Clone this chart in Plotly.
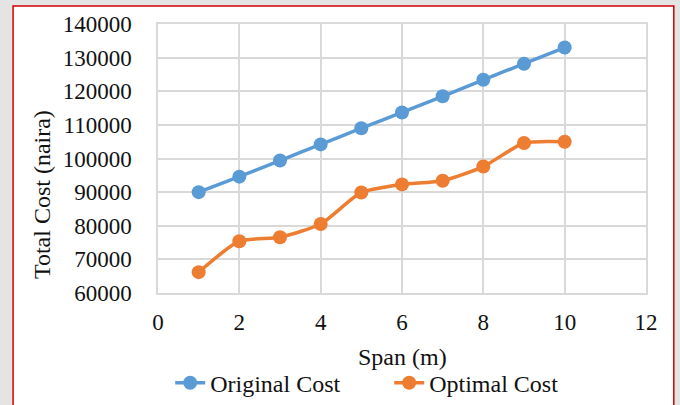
import plotly.graph_objects as go

span = [1, 2, 3, 4, 5, 6, 7, 8, 9, 10]
original_cost = [90000, 94600, 99400, 104200, 109000, 113700, 118500, 123400, 128200, 133000]
optimal_cost = [66200, 75400, 76600, 80500, 89900, 92300, 93400, 97600, 104600, 105000]

x_ticks = [0, 2, 4, 6, 8, 10, 12]
y_ticks = [60000, 70000, 80000, 90000, 100000, 110000, 120000, 130000, 140000]

FONT = "Liberation Serif"
BLUE = "#5b9bd5"
ORANGE = "#ed7d31"

fig = go.Figure()
fig.add_trace(go.Scatter(x=span, y=original_cost, name="Original Cost", mode="lines+markers",
                         line=dict(color=BLUE, width=3.5, shape="spline", smoothing=0.6),
                         marker=dict(color=BLUE, size=14)))
fig.add_trace(go.Scatter(x=span, y=optimal_cost, name="Optimal Cost", mode="lines+markers",
                         line=dict(color=ORANGE, width=3.5, shape="spline", smoothing=0.6),
                         marker=dict(color=ORANGE, size=14)))

fig.update_layout(
    width=680, height=405,
    margin=dict(l=158, r=34, t=24, b=112, autoexpand=False),
    paper_bgcolor="#e4e4e4", plot_bgcolor="white",
    font=dict(family=FONT, size=23, color="#111111"),
    showlegend=True,
    legend=dict(orientation="h", x=0.025, xanchor="left", y=-0.335, yanchor="middle",
                font=dict(size=24), entrywidth=174, entrywidthmode="pixels",
                bgcolor="rgba(0,0,0,0)", tracegroupgap=0),
    xaxis=dict(range=[0, 12], tickvals=x_ticks, showgrid=True, gridcolor="#d9d9d9", gridwidth=1.5,
               zeroline=False, showline=True, linecolor="#d9d9d9", linewidth=1.5, ticks="",
               mirror=True, automargin=False, ticklabelstandoff=8),
    yaxis=dict(range=[60000, 140000], tickvals=y_ticks, showgrid=True, gridcolor="#d9d9d9", gridwidth=1.5,
               zeroline=False, showline=True, linecolor="#d9d9d9", linewidth=1.5, ticks="",
               mirror=True, tickformat="d", automargin=False, ticklabelstandoff=20),
    shapes=[dict(type="rect", xref="paper", yref="paper", x0=-0.297, x1=1.057, y0=-0.45, y1=1.067,
                 fillcolor="white", line=dict(color="#d00000", width=1.5), layer="below")],
    annotations=[
        dict(text="Total Cost (naira)", xref="paper", yref="paper", x=-0.2377, y=0.364,
             xanchor="center", yanchor="middle", textangle=-90, showarrow=False,
             font=dict(size=24)),
        dict(text="Span (m)", xref="paper", yref="paper", x=0.5, y=-0.238,
             xanchor="center", yanchor="middle", showarrow=False, font=dict(size=24)),
    ],
)

fig.write_html("out.html", config={"displayModeBar": False},
               post_script="document.body.style.margin='0px';")
